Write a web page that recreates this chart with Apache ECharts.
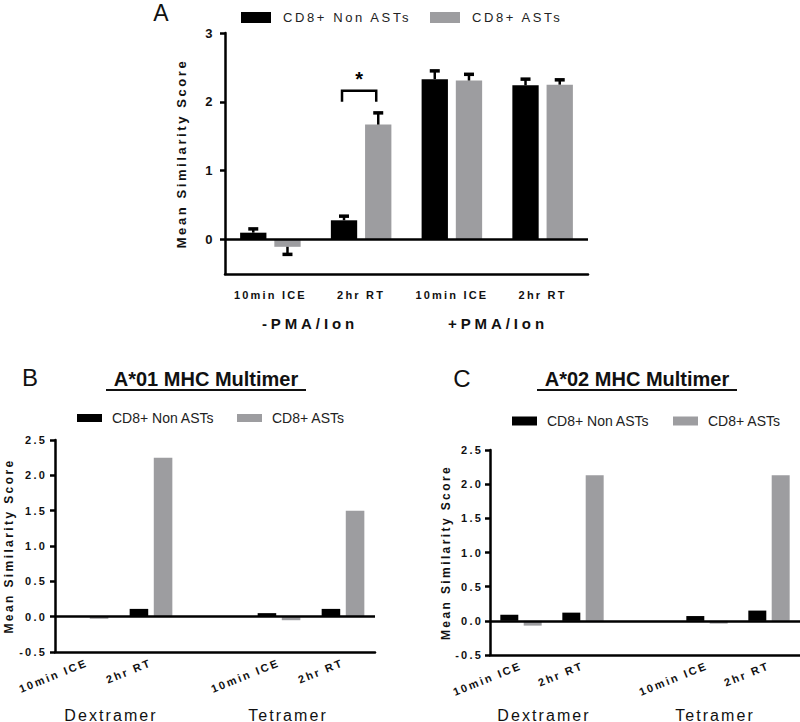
<!DOCTYPE html>
<html>
<head>
<meta charset="utf-8">
<script src="https://cdn.jsdelivr.net/npm/echarts@6/dist/echarts.min.js"></script>
<style>
  html, body { margin: 0; padding: 0; background: #fff; }
  #chart { width: 800px; height: 722px; }
  #chart svg text[style*="Liberation"] { letter-spacing: 0.2em; }
  #chart svg text[style*="Liberation"][style*="15px"] { letter-spacing: 0.26em; }
  #chart svg text[style*="Liberation"][style*="16px"] { letter-spacing: 0.13em; }
</style>
</head>
<body>
<div id="chart"></div>
<script>
// ---------- data ----------
const seriesNames = ['CD8+ Non ASTs', 'CD8+ ASTs'];

// Panel A
const catsA = ['10min ICE', '2hr RT', '10min ICE', '2hr RT'];
const groupsA = ['-PMA/Ion', '+PMA/Ion'];
const nonA = [0.10, 0.28, 2.33, 2.24];
const nonAErr = [0.055, 0.06, 0.12, 0.09];
const astA = [-0.105, 1.67, 2.31, 2.25];
const astAErr = [0.11, 0.17, 0.09, 0.07];
const yTicksA = [0, 1, 2, 3];
// significance bracket: [category, leg bottom, bracket top, star]
const sigA = [[1, 2.0, 2.16, 2.33]];

// Panels B and C
const catsBC = ['10min ICE', '2hr RT', '', '10min ICE', '2hr RT'];
const groupsBC = ['Dextramer', 'Tetramer'];
const nonB = [0, 0.11, null, 0.05, 0.11];
const astB = [-0.03, 2.25, null, -0.05, 1.50];
const nonC = [0.09, 0.12, null, 0.07, 0.15];
const astC = [-0.07, 2.13, null, -0.04, 2.13];

const titleB = 'A*01 MHC Multimer';
const titleC = 'A*02 MHC Multimer';
const yName = 'Mean Similarity Score';

// ---------- style ----------
const BLACK = '#000000';
const GRAY = '#9d9da0';
const BAR_W = 0.29;
const BAR_GAP = 0.30;
const SPACED = 'Liberation Sans';
const PLAIN = 'Arial';

const chart = echarts.init(document.getElementById('chart'), null, { renderer: 'svg' });

function errRender(sign) {
  return function (params, api) {
    const x = api.value(0), v = api.value(1), e = api.value(2);
    const band = api.size([1, 0])[0];
    const bw = band * BAR_W, gap = bw * BAR_GAP;
    const dx = sign * (bw + gap) / 2;
    const p0 = api.coord([x, v]);
    const p1 = api.coord([x, v >= 0 ? v + e : v - e]);
    const cx = p0[0] + dx;
    const cap = bw * 0.38;
    return {
      type: 'group',
      children: [
        { type: 'line', shape: { x1: cx, y1: p0[1], x2: cx, y2: p1[1] }, style: { stroke: BLACK, lineWidth: 2.5 } },
        { type: 'line', shape: { x1: cx - cap / 2, y1: p1[1], x2: cx + cap / 2, y2: p1[1] }, style: { stroke: BLACK, lineWidth: 3.5 } }
      ]
    };
  };
}

function sigRender(params, api) {
  const x = api.value(0), lo = api.value(1), hi = api.value(2), star = api.value(3);
  const band = api.size([1, 0])[0];
  const bw = band * BAR_W, gap = bw * BAR_GAP;
  const d = (bw + gap) / 2;
  const pLo = api.coord([x, lo]), pHi = api.coord([x, hi]), pS = api.coord([x, star]);
  const xl = pLo[0] - d - 2, xr = pLo[0] + d - 2;
  return {
    type: 'group',
    children: [
      { type: 'polyline', shape: { points: [[xl, pLo[1]], [xl, pHi[1]], [xr, pHi[1]], [xr, pLo[1]]] },
        style: { stroke: BLACK, lineWidth: 2.5, fill: null } },
      { type: 'text', style: { text: '*', x: (xl + xr) / 2, y: pS[1], fontSize: 20, fontWeight: 'bold', fontFamily: PLAIN,
        fill: BLACK, align: 'center', verticalAlign: 'middle', textAlign: 'center', textVerticalAlign: 'middle' } }
    ]
  };
}

const zeroLine = {
  silent: true, symbol: 'none',
  label: { show: false },
  lineStyle: { color: BLACK, type: 'solid', width: 2.5 },
  data: [{ yAxis: 0 }]
};

function catAxis(gridIndex, data, rotate, fontSize, margin) {
  return {
    type: 'category', gridIndex, data,
    axisLine: { onZero: false, lineStyle: { color: BLACK, width: 2.5 } },
    axisTick: { alignWithLabel: true, length: 5, lineStyle: { color: BLACK, width: 2.5 } },
    axisLabel: { interval: 0, rotate, margin, color: '#111', fontWeight: 'bold', fontSize, fontFamily: SPACED },
    splitLine: { show: false }
  };
}

function valAxis(gridIndex, opts) {
  return Object.assign({
    type: 'value', gridIndex,
    name: yName, nameLocation: 'middle', nameRotate: 90,
    axisLine: { show: true, lineStyle: { color: BLACK, width: 2.5 } },
    axisTick: { show: true, length: 5, lineStyle: { color: BLACK, width: 2.5 } },
    splitLine: { show: false }
  }, opts);
}

function bars(name, data, color, xi, yi, withZero) {
  const s = {
    type: 'bar', name, data, xAxisIndex: xi, yAxisIndex: yi,
    barWidth: (BAR_W * 100) + '%', barGap: (BAR_GAP * 100) + '%',
    itemStyle: { color }, z: 2
  };
  if (withZero) s.markLine = zeroLine;
  return s;
}

function legendItem(name, left, top, w, h, fontSize, family, pad) {
  return {
    data: [name], left, top, itemWidth: w, itemHeight: h, icon: 'rect',
    selectedMode: false,
    textStyle: { fontSize, fontFamily: family, color: '#222', padding: [0, 0, 0, pad] }
  };
}

function gtext(text, x, y, size, weight, family) {
  return { type: 'text', x, y, style: { text, fontSize: size, fontWeight: weight, fontFamily: family, fill: '#111',
    align: 'center', verticalAlign: 'middle', textAlign: 'center', textVerticalAlign: 'middle' } };
}

const option = {
  backgroundColor: '#ffffff',
  animation: false,
  grid: [
    { left: 225, top: 33, width: 363, height: 241, outerBoundsMode: 'none', containLabel: false },
    { left: 55, top: 440, width: 320, height: 212, outerBoundsMode: 'none', containLabel: false },
    { left: 490, top: 450, width: 310, height: 205, outerBoundsMode: 'none', containLabel: false }
  ],
  legend: [
    legendItem(seriesNames[0], 236, 6, 30, 11, 13, SPACED, 7),
    legendItem(seriesNames[1], 425, 6, 30, 11, 13, SPACED, 7),
    legendItem(seriesNames[0], 72, 406, 25, 8, 14, PLAIN, 5),
    legendItem(seriesNames[1], 232, 406, 25, 8, 14, PLAIN, 5),
    legendItem(seriesNames[0], 507, 409, 25, 9, 14, PLAIN, 5),
    legendItem(seriesNames[1], 668, 409, 25, 9, 14, PLAIN, 5)
  ],
  xAxis: [
    catAxis(0, catsA, 0, 11, 15),
    catAxis(1, catsBC, 22, 11, 10),
    catAxis(2, catsBC, 22, 11, 10)
  ],
  yAxis: [
    valAxis(0, {
      min: -0.5, max: 3, nameGap: 37,
      nameTextStyle: { fontSize: 13, fontWeight: 'bold', fontFamily: SPACED, color: '#111' },
      axisTick: { show: true, length: 5, customValues: yTicksA, lineStyle: { color: BLACK, width: 2.5 } },
      axisLabel: { customValues: yTicksA, margin: 10, color: '#111', fontWeight: 'bold', fontSize: 13, fontFamily: SPACED }
    }),
    valAxis(1, {
      min: -0.5, max: 2.5, interval: 0.5, nameGap: 40,
      nameTextStyle: { fontSize: 12, fontWeight: 'bold', fontFamily: SPACED, color: '#111' },
      axisLabel: { margin: 8, color: '#111', fontWeight: 'bold', fontSize: 11, fontFamily: SPACED, formatter: v => v.toFixed(1) }
    }),
    valAxis(2, {
      min: -0.5, max: 2.5, interval: 0.5, nameGap: 38,
      nameTextStyle: { fontSize: 12, fontWeight: 'bold', fontFamily: SPACED, color: '#111' },
      axisLabel: { margin: 7, color: '#111', fontWeight: 'bold', fontSize: 11, fontFamily: SPACED, formatter: v => v.toFixed(1) }
    })
  ],
  series: [
    bars(seriesNames[0], nonA, BLACK, 0, 0, true),
    bars(seriesNames[1], astA, GRAY, 0, 0, false),
    { type: 'custom', name: 'errNonA', xAxisIndex: 0, yAxisIndex: 0, z: 3, silent: true,
      renderItem: errRender(-1), encode: { x: 0, y: 1 },
      data: nonA.map((v, i) => [i, v, nonAErr[i]]) },
    { type: 'custom', name: 'errAstA', xAxisIndex: 0, yAxisIndex: 0, z: 3, silent: true,
      renderItem: errRender(1), encode: { x: 0, y: 1 },
      data: astA.map((v, i) => [i, v, astAErr[i]]) },
    { type: 'custom', name: 'sigA', xAxisIndex: 0, yAxisIndex: 0, z: 3, silent: true,
      renderItem: sigRender, encode: { x: 0, y: 2 }, data: sigA },
    bars(seriesNames[0], nonB, BLACK, 1, 1, true),
    bars(seriesNames[1], astB, GRAY, 1, 1, false),
    bars(seriesNames[0], nonC, BLACK, 2, 2, true),
    bars(seriesNames[1], astC, GRAY, 2, 2, false)
  ],
  graphic: [
    gtext('A', 161, 13, 23, 'normal', PLAIN),
    gtext('B', 30, 377, 24, 'normal', PLAIN),
    gtext('C', 462, 378, 24, 'normal', PLAIN),
    gtext(groupsA[0], 310, 323, 15, 'bold', SPACED),
    gtext(groupsA[1], 498, 323, 15, 'bold', SPACED),
    gtext(groupsBC[0], 111, 715, 16, 'normal', SPACED),
    gtext(groupsBC[1], 288, 715, 16, 'normal', SPACED),
    gtext(groupsBC[0], 544, 715, 16, 'normal', SPACED),
    gtext(groupsBC[1], 715, 715, 16, 'normal', SPACED),
    gtext(titleB, 206, 379, 20, 'bold', PLAIN),
    gtext(titleC, 637, 379, 20, 'bold', PLAIN),
    { type: 'line', shape: { x1: 106, y1: 390, x2: 306, y2: 390 }, style: { stroke: '#111', lineWidth: 2 } },
    { type: 'line', shape: { x1: 537, y1: 390, x2: 737, y2: 390 }, style: { stroke: '#111', lineWidth: 2 } }
  ]
};

chart.setOption(option);
</script>
</body>
</html>
